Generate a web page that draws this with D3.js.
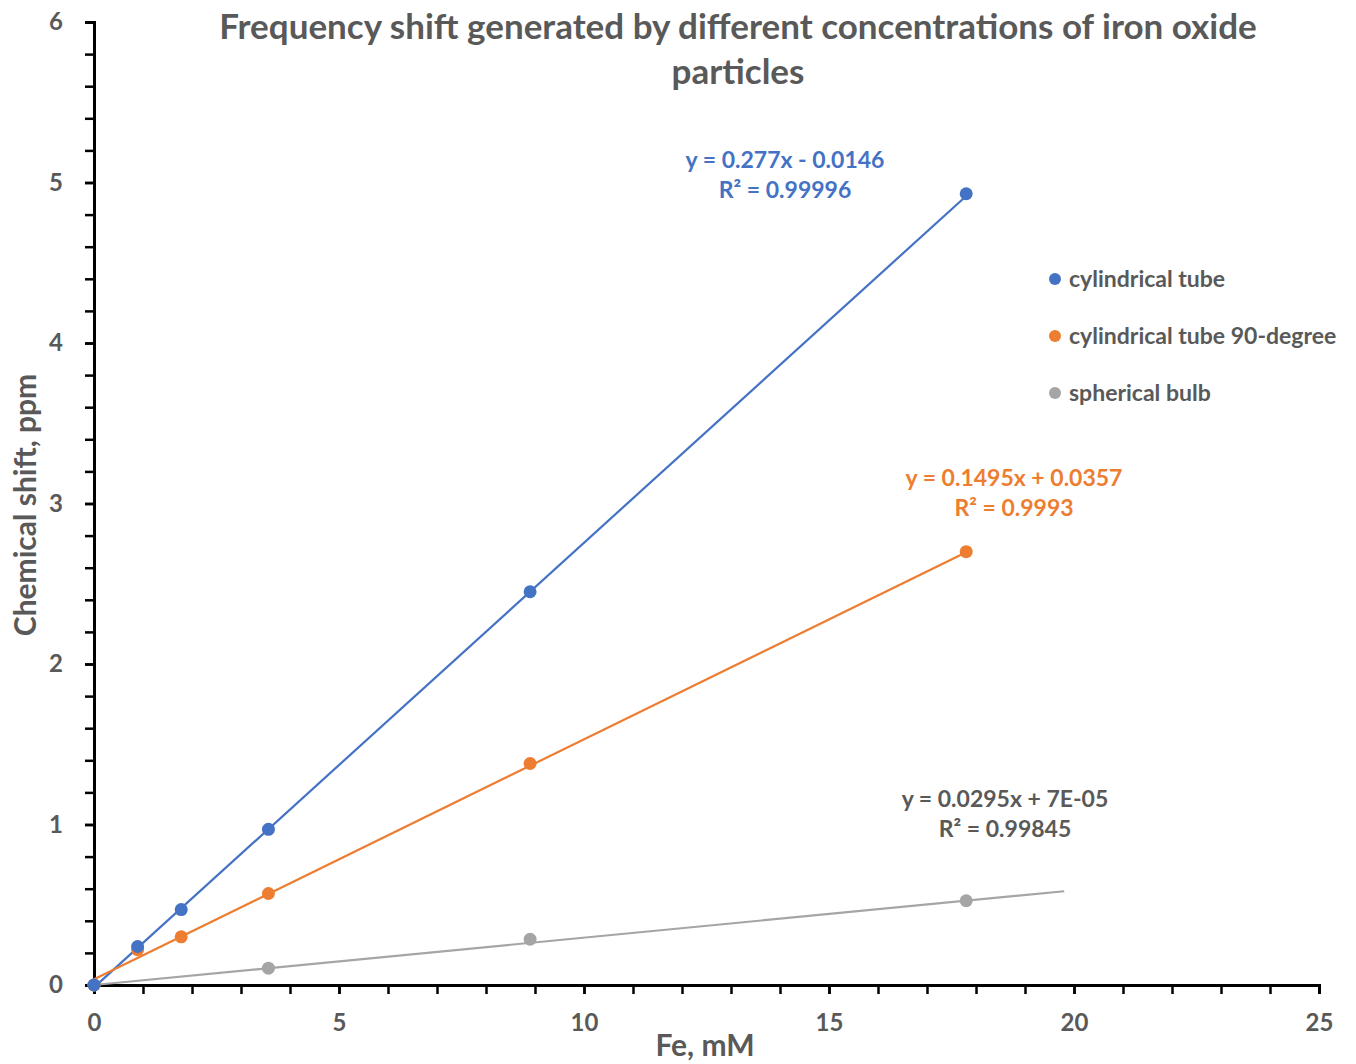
<!DOCTYPE html>
<html>
<head>
<meta charset="utf-8">
<script src="https://cdn.jsdelivr.net/npm/d3@7"></script>
<style>
  body { margin: 0; background: #fff; }
  svg text { font-family: Lato, "Open Sans", sans-serif; font-weight: bold; fill: #595959; }
</style>
</head>
<body>
<svg id="chart" width="1356" height="1064"></svg>
<script>
// data
const xBlue = [0, 0.89, 1.78, 3.56, 8.9, 17.8];
const yBlue = [0, 0.24, 0.47, 0.97, 2.45, 4.93];
const xOrange = [0, 0.89, 1.78, 3.56, 8.9, 17.8];
const yOrange = [0, 0.22, 0.30, 0.57, 1.38, 2.70];
const xGray = [0, 3.56, 8.9, 17.8];
const yGray = [0, 0.105, 0.285, 0.525];

const seriesNames = ["cylindrical tube", "cylindrical tube 90-degree", "spherical bulb"];
const seriesColors = ["#4472C4", "#ED7D31", "#A5A5A5"];
// trendlines: slope, intercept, x range
const slopes = [0.277, 0.1495, 0.0295];
const intercepts = [-0.0146, 0.0357, 0.00007];
const trendEnd = [17.8, 17.8, 19.8];
const eqLabels = [
  ["y = 0.277x - 0.0146", "R\u00B2 = 0.99996"],
  ["y = 0.1495x + 0.0357", "R\u00B2 = 0.9993"],
  ["y = 0.0295x + 7E-05", "R\u00B2 = 0.99845"]
];
const xTicks = [0, 5, 10, 15, 20, 25];
const yTicks = [0, 1, 2, 3, 4, 5, 6];

const svg = d3.select("#chart");
const x = d3.scaleLinear().domain([0, 25]).range([94, 1319]);
const y = d3.scaleLinear().domain([0, 6]).range([985, 22]);

// minor ticks first
svg.append("g")
   .attr("transform", "translate(0,985)")
   .call(d3.axisBottom(x).tickValues(d3.range(0, 26, 1)).tickSize(9).tickFormat(""))
   .call(g => g.select(".domain").remove())
   .selectAll("line").attr("stroke", "#000").attr("stroke-width", 2.5);
svg.append("g")
   .attr("transform", "translate(94,0)")
   .call(d3.axisLeft(y).tickValues(d3.range(0, 6.01, 0.2)).tickSize(9).tickFormat(""))
   .call(g => g.select(".domain").remove())
   .selectAll("line").attr("stroke", "#000").attr("stroke-width", 2.5);

// main axes
const xAxis = svg.append("g")
   .attr("transform", "translate(0,985)")
   .call(d3.axisBottom(x).tickValues(xTicks).tickFormat(d3.format("d"))
         .tickSize(9).tickSizeOuter(9).tickPadding(20));
const yAxis = svg.append("g")
   .attr("transform", "translate(94,0)")
   .call(d3.axisLeft(y).tickValues(yTicks).tickFormat(d3.format("d"))
         .tickSize(9).tickSizeOuter(9).tickPadding(22));
[xAxis, yAxis].forEach(g => {
  g.select(".domain").attr("stroke", "#000").attr("stroke-width", 3);
  g.selectAll(".tick line").attr("stroke", "#000").attr("stroke-width", 2.5);
  g.selectAll(".tick text").style("font-size", "24px").attr("fill", "#595959");
});

// trendlines
seriesNames.forEach((name, i) => {
  const line = d3.line().x(d => x(d)).y(d => y(slopes[i] * d + intercepts[i]));
  svg.append("path")
     .attr("d", line([0, trendEnd[i]]))
     .attr("fill", "none")
     .attr("stroke", seriesColors[i])
     .attr("stroke-width", 2.2);
});

// markers
const pts = [[xBlue, yBlue], [xOrange, yOrange], [xGray, yGray]];
[2, 1, 0].forEach(i => {
  svg.append("g").selectAll("circle")
     .data(pts[i][0].map((v, k) => [v, pts[i][1][k]]))
     .join("circle")
     .attr("cx", d => x(d[0]))
     .attr("cy", d => y(d[1]))
     .attr("r", 6.5)
     .attr("fill", seriesColors[i]);
});

// equation labels
const eqPos = [[785, 160], [1014, 478], [1005, 799]];
const eqColors = ["#4472C4", "#ED7D31", "#595959"];
eqLabels.forEach((lines, i) => {
  lines.forEach((t, k) => {
    svg.append("text")
       .attr("x", eqPos[i][0])
       .attr("y", eqPos[i][1] + k * 30)
       .attr("text-anchor", "middle")
       .attr("dy", "0.35em")
       .style("font-size", "23px")
       .style("fill", eqColors[i])
       .text(t);
  });
});

// legend
seriesNames.forEach((name, i) => {
  const ly = 279 + i * 57;
  svg.append("circle").attr("cx", 1055).attr("cy", ly).attr("r", 6).attr("fill", seriesColors[i]);
  svg.append("text").attr("x", 1069).attr("y", ly).attr("dy", "0.35em")
     .style("font-size", "23px").text(name);
});

// title
["Frequency shift generated by different concentrations of iron oxide", "particles"].forEach((t, k) => {
  svg.append("text")
     .attr("x", 738).attr("y", 27 + k * 45).attr("dy", "0.35em")
     .attr("text-anchor", "middle")
     .style("font-size", "35px")
     .text(t);
});

// axis titles
svg.append("text")
   .attr("x", 705).attr("y", 1045).attr("dy", "0.35em")
   .attr("text-anchor", "middle").style("font-size", "30px")
   .text("Fe, mM");
svg.append("text")
   .attr("transform", "translate(25,505) rotate(-90)")
   .attr("dy", "0.35em")
   .attr("text-anchor", "middle").style("font-size", "30px")
   .text("Chemical shift, ppm");
</script>
</body>
</html>
